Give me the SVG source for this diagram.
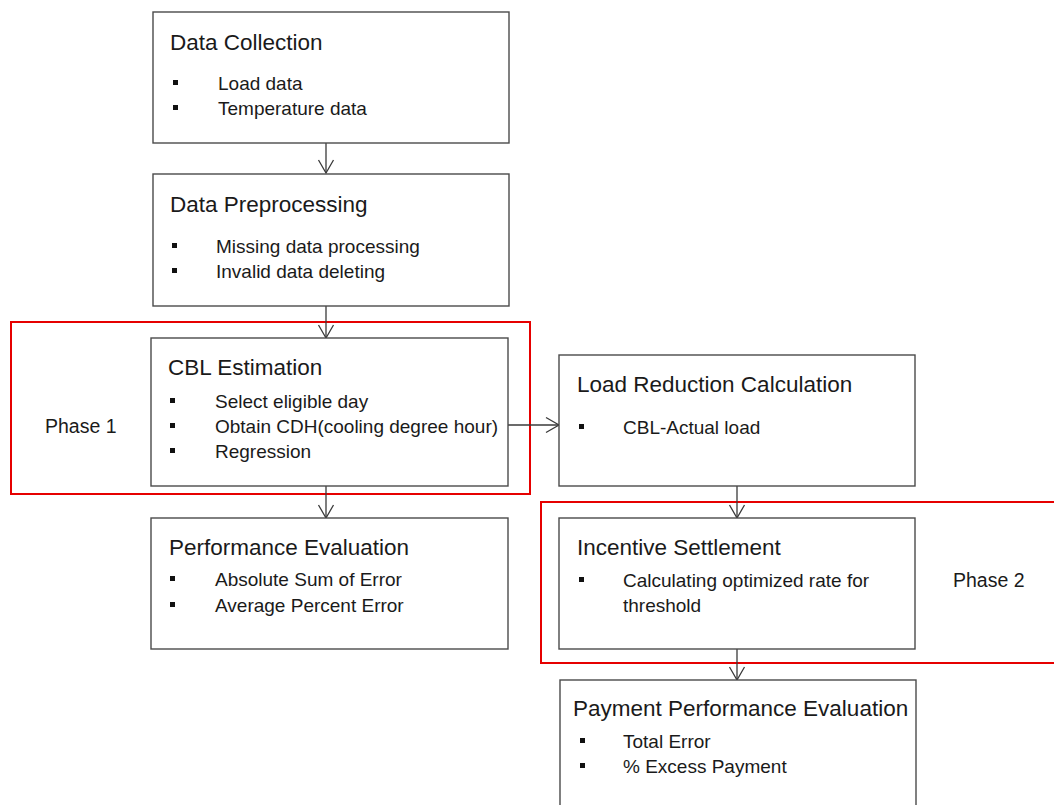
<svg xmlns="http://www.w3.org/2000/svg" width="1054" height="805" viewBox="0 0 1054 805">
<defs>
<style>
.box{fill:#fff;stroke:#4a4a4a;stroke-width:1.4}
.phase{fill:none;stroke:#e60000;stroke-width:2}
.t{font-family:"Liberation Sans",Arial,sans-serif;font-size:22.5px;fill:#1a1a1a}
.b{font-family:"Liberation Sans",Arial,sans-serif;font-size:19px;fill:#1a1a1a}
.p{font-family:"Liberation Sans",Arial,sans-serif;font-size:19.5px;fill:#1a1a1a}
.bul{fill:#111}
.con{fill:none;stroke:#3a3a3a;stroke-width:1.3}
</style>
<marker id="ah" markerUnits="userSpaceOnUse" viewBox="-15 -9 17 18" refX="0" refY="0" markerWidth="17" markerHeight="18" orient="auto">
<path d="M-13,-7.5 L0,0 L-13,7.5" fill="none" stroke="#3a3a3a" stroke-width="1.3"/>
</marker>
</defs>
<rect width="1054" height="805" fill="#fff"/>

<g id="phase1">
<rect class="phase" x="11" y="322" width="519" height="172"/>
<text class="p" x="45" y="433">Phase 1</text>
</g>
<g id="phase2">
<path class="phase" d="M1056,502 H541 V663 H1056"/>
<text class="p" x="953" y="587">Phase 2</text>
</g>

<g id="connectors">
<line class="con" x1="326" y1="143" x2="326" y2="173" marker-end="url(#ah)"/>
<line class="con" x1="326" y1="306" x2="326" y2="338" marker-end="url(#ah)"/>
<line class="con" x1="326" y1="486" x2="326" y2="518" marker-end="url(#ah)"/>
<line class="con" x1="508" y1="425" x2="559" y2="425" marker-end="url(#ah)"/>
<line class="con" x1="737" y1="486" x2="737" y2="518" marker-end="url(#ah)"/>
<line class="con" x1="737" y1="649" x2="737" y2="680" marker-end="url(#ah)"/>
</g>

<g id="data-collection">
<rect class="box" x="153" y="12" width="356" height="131"/>
<text class="t" x="170" y="50">Data Collection</text>
<rect class="bul" x="173" y="80" width="5" height="5"/>
<text class="b" x="218" y="90">Load data</text>
<rect class="bul" x="173" y="105" width="5" height="5"/>
<text class="b" x="218" y="115">Temperature data</text>
</g>

<g id="data-preprocessing">
<rect class="box" x="153" y="174" width="356" height="132"/>
<text class="t" x="170" y="212">Data Preprocessing</text>
<rect class="bul" x="172" y="243" width="5" height="5"/>
<text class="b" x="216" y="253">Missing data processing</text>
<rect class="bul" x="172" y="268" width="5" height="5"/>
<text class="b" x="216" y="278">Invalid data deleting</text>
</g>

<g id="cbl-estimation">
<rect class="box" x="151" y="338" width="357" height="148"/>
<text class="t" x="168" y="375">CBL Estimation</text>
<rect class="bul" x="170" y="398" width="5" height="5"/>
<text class="b" x="215" y="408">Select eligible day</text>
<rect class="bul" x="170" y="423" width="5" height="5"/>
<text class="b" x="215" y="433">Obtain CDH(cooling degree hour)</text>
<rect class="bul" x="170" y="448" width="5" height="5"/>
<text class="b" x="215" y="458">Regression</text>
</g>

<g id="performance-evaluation">
<rect class="box" x="151" y="518" width="357" height="131"/>
<text class="t" x="169" y="555">Performance Evaluation</text>
<rect class="bul" x="170" y="576" width="5" height="5"/>
<text class="b" x="215" y="586">Absolute Sum of Error</text>
<rect class="bul" x="170" y="602" width="5" height="5"/>
<text class="b" x="215" y="612">Average Percent Error</text>
</g>

<g id="load-reduction">
<rect class="box" x="559" y="355" width="356" height="131"/>
<text class="t" x="577" y="392">Load Reduction Calculation</text>
<rect class="bul" x="579" y="424" width="5" height="5"/>
<text class="b" x="623" y="434">CBL-Actual load</text>
</g>

<g id="incentive-settlement">
<rect class="box" x="559" y="518" width="356" height="131"/>
<text class="t" x="577" y="555">Incentive Settlement</text>
<rect class="bul" x="579" y="577" width="5" height="5"/>
<text class="b" x="623" y="587">Calculating optimized rate for</text>
<text class="b" x="623" y="612">threshold</text>
</g>

<g id="payment-performance">
<rect class="box" x="560" y="680" width="356" height="140"/>
<text class="t" x="573" y="716">Payment Performance Evaluation</text>
<rect class="bul" x="580" y="738" width="5" height="5"/>
<text class="b" x="623" y="748">Total Error</text>
<rect class="bul" x="580" y="763" width="5" height="5"/>
<text class="b" x="623" y="773">% Excess Payment</text>
</g>
</svg>
